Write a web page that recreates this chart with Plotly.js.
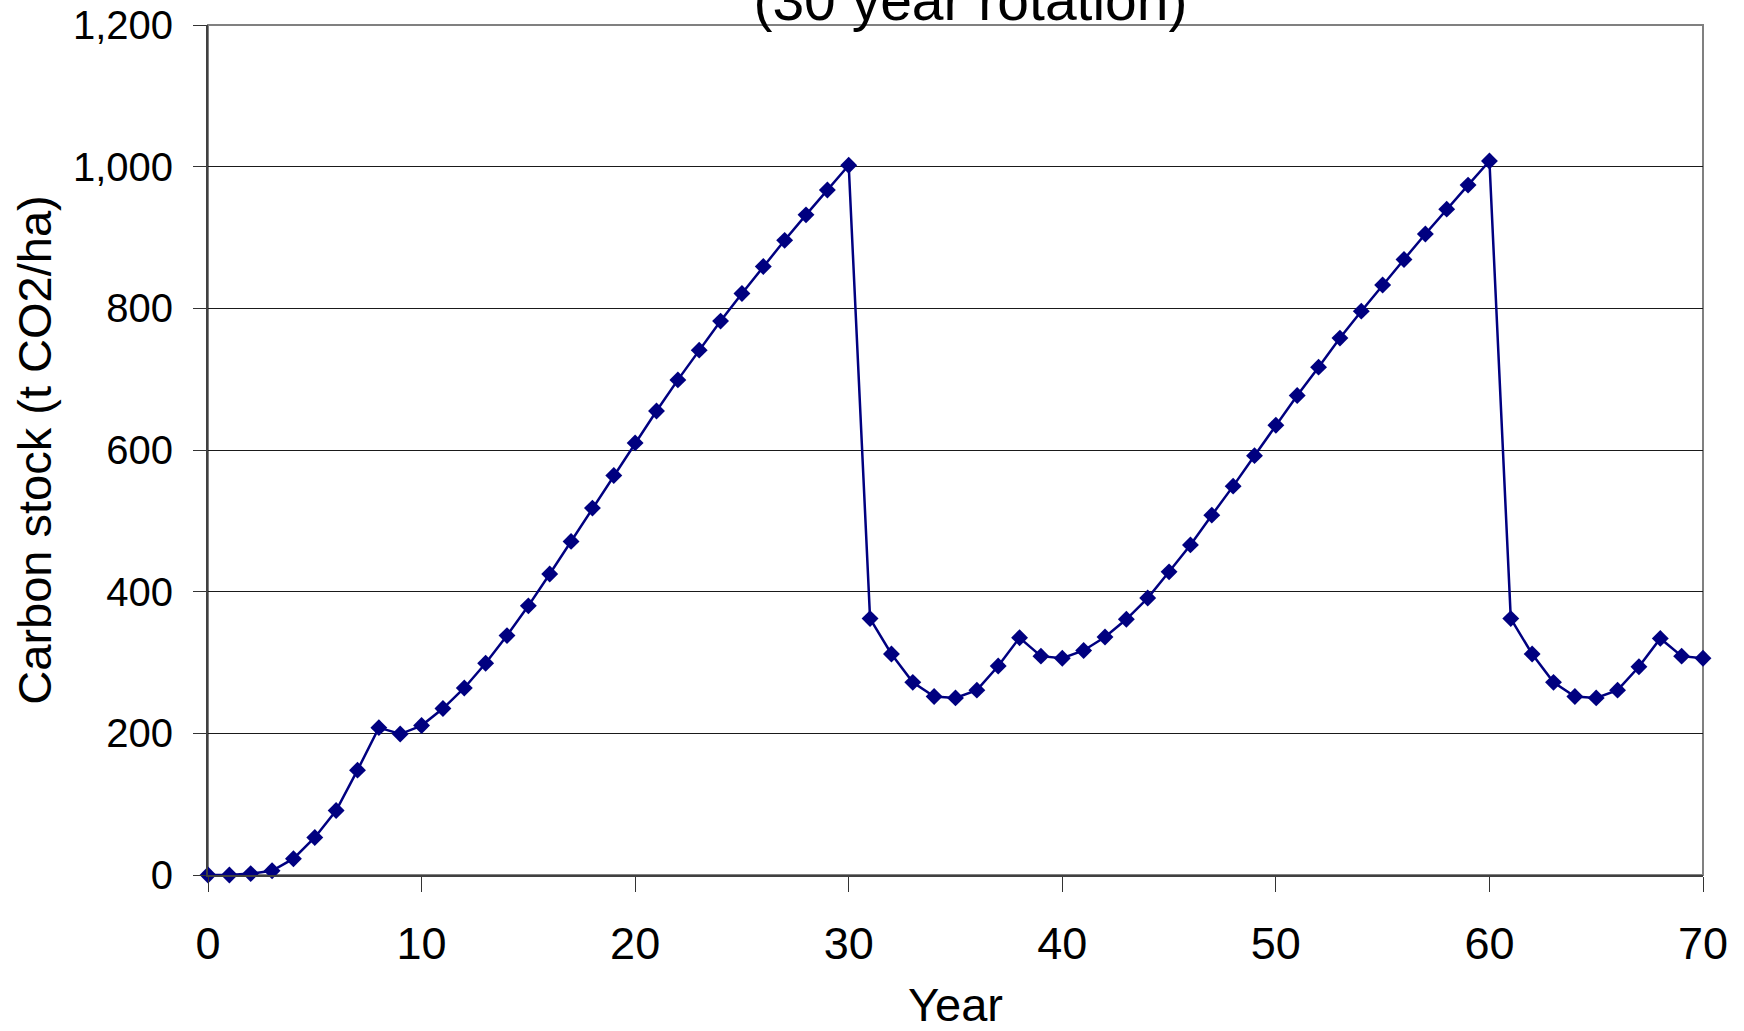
<!DOCTYPE html>
<html>
<head>
<meta charset="utf-8">
<script src="https://cdn.plot.ly/plotly-3.0.1.min.js"></script>
<style>
  html, body { margin: 0; padding: 0; background: #ffffff; }
  #chart { width: 1744px; height: 1031px; }
</style>
</head>
<body>
<div id="chart"></div>
<script>
// ---- Data ----
const years = [
  0, 1, 2, 3, 4, 5, 6, 7, 8, 9,
  10, 11, 12, 13, 14, 15, 16, 17, 18, 19,
  20, 21, 22, 23, 24, 25, 26, 27, 28, 29,
  30, 31, 32, 33, 34, 35, 36, 37, 38, 39,
  40, 41, 42, 43, 44, 45, 46, 47, 48, 49,
  50, 51, 52, 53, 54, 55, 56, 57, 58, 59,
  60, 61, 62, 63, 64, 65, 66, 67, 68, 69,
  70
];
const carbonStock = [
  0, 0, 2, 6, 23, 53, 91, 148, 208, 199,
  211, 235, 264, 299, 338, 380, 425, 471, 518, 564,
  610, 655, 699, 741, 782, 821, 859, 896, 932, 967,
  1002, 362, 312, 272, 252, 250, 261, 295, 335, 309,
  306, 317, 336, 361, 391, 428, 466, 508, 549, 592,
  635, 677, 717, 758, 796, 833, 869, 905, 940, 974,
  1008, 362, 312, 272, 252, 250, 261, 294, 334, 309,
  306
];
const chartTitle = "(30 year rotation)";
const xTitle = "Year";
const yTitle = "Carbon stock (t CO2/ha)";
const xTickVals = [0, 10, 20, 30, 40, 50, 60, 70];
const yTickVals = [0, 200, 400, 600, 800, 1000, 1200];

const FONT = "Liberation Sans, Arial, sans-serif";
const NAVY = "#000080";

const trace = {
  x: years,
  y: carbonStock,
  type: "scatter",
  mode: "lines+markers",
  line: { color: NAVY, width: 2.5 },
  marker: { symbol: "diamond", size: 13, color: NAVY, line: { color: NAVY, width: 0 } },
  cliponaxis: false,
  hoverinfo: "x+y"
};

const layout = {
  width: 1744,
  height: 1031,
  paper_bgcolor: "#ffffff",
  plot_bgcolor: "#ffffff",
  showlegend: false,
  margin: { l: 208, r: 41, t: 25, b: 156, pad: 0 },
  font: { family: FONT, color: "#000000" },
  title: {
    text: chartTitle,
    font: { family: FONT, size: 57, color: "#000000" },
    xref: "paper",
    x: 0.51,
    xanchor: "center",
    yref: "container",
    y: 1,
    yanchor: "middle"
  },
  xaxis: {
    range: [0, 70],
    tickmode: "array",
    tickvals: xTickVals,
    ticks: "outside",
    ticklen: 15,
    tickwidth: 1,
    tickcolor: "#333333",
    ticklabelstandoff: 13,
    tickfont: { family: FONT, size: 45, color: "#000000" },
    showgrid: false,
    zeroline: false,
    showline: true,
    linecolor: "#404040",
    linewidth: 2,
    title: { text: xTitle, font: { family: FONT, size: 47, color: "#000000" }, standoff: 32 }
  },
  yaxis: {
    range: [0, 1200],
    tickmode: "array",
    tickvals: yTickVals,
    tickformat: ",d",
    ticks: "outside",
    ticklen: 13,
    tickwidth: 1,
    tickcolor: "#333333",
    ticklabelstandoff: 12,
    tickfont: { family: FONT, size: 40, color: "#000000" },
    showgrid: true,
    gridcolor: "#1a1a1a",
    gridwidth: 1,
    zeroline: false,
    showline: true,
    linecolor: "#404040",
    linewidth: 2,
    title: { text: yTitle, font: { family: FONT, size: 47, color: "#000000" }, standoff: 6 }
  },
  shapes: [
    {
      type: "rect",
      xref: "paper", yref: "paper",
      x0: 0, x1: 1, y0: 0, y1: 1,
      line: { color: "#808080", width: 2 },
      fillcolor: "rgba(0,0,0,0)",
      layer: "below"
    }
  ]
};

Plotly.newPlot("chart", [trace], layout, { staticPlot: true, displayModeBar: false });
</script>
</body>
</html>
